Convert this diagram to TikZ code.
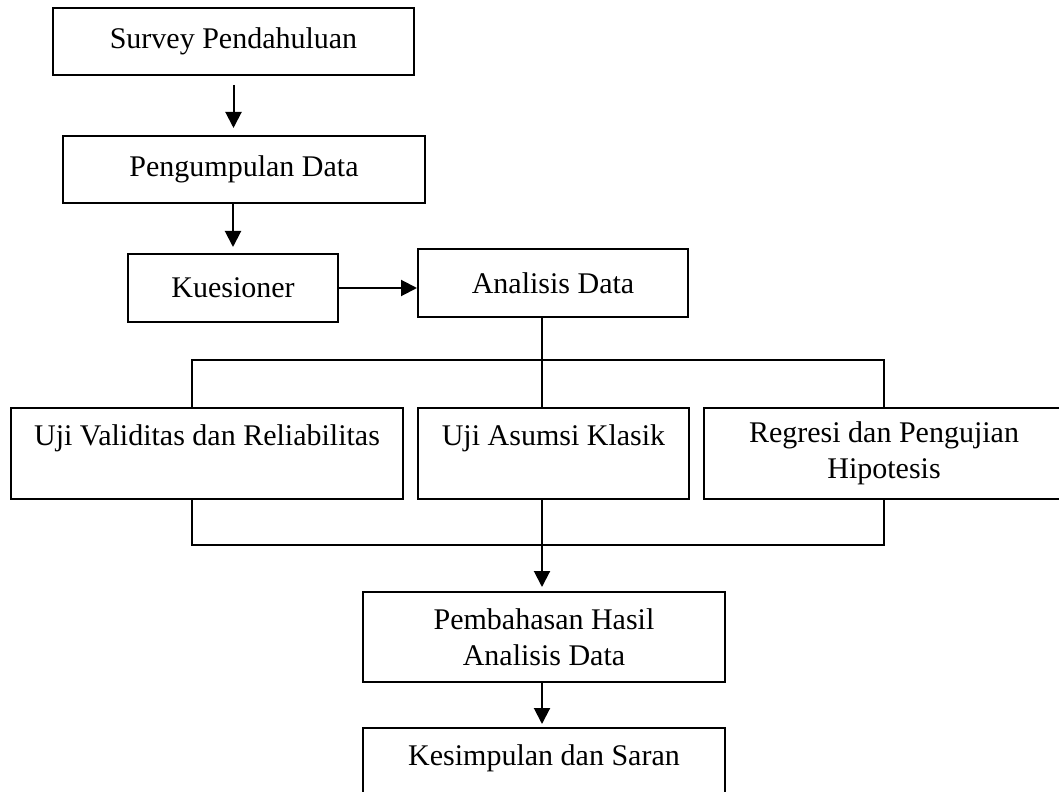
\documentclass[tikz,border=0pt]{standalone}
\usepackage{fontspec}
\setmainfont{Liberation Serif}
\usetikzlibrary{arrows.meta}

\tikzset{
  box/.style={draw=black, line width=0.8pt, align=center, inner sep=0pt, font=\fontsize{12}{14.4}\selectfont},
  link/.style={draw=black, line width=0.8pt},
  arrowlink/.style={link, -{Triangle[length=6.4pt, width=6.4pt]}}
}

\begin{document}
\begin{tikzpicture}[x=0.4pt, y=-0.4pt]
\useasboundingbox (0,0) rectangle (1059,792);

\node[box, minimum width=361*0.4pt, minimum height=67*0.4pt] (survey) at (233.5,41.5) {Survey Pendahuluan};
\node[box, minimum width=362*0.4pt, minimum height=67*0.4pt] (kumpul) at (244,169.5) {Pengumpulan Data};
\node[box, minimum width=210*0.4pt, minimum height=68*0.4pt] (kuesioner) at (233,288) {Kuesioner};
\node[box, minimum width=270*0.4pt, minimum height=68*0.4pt] (analisis) at (553,283) {Analisis Data};

\node[box, minimum width=392*0.4pt, minimum height=91*0.4pt] (validitas) at (207,453.5) {Uji Validitas dan Reliabilitas\\~};
\node[box, minimum width=271*0.4pt, minimum height=91*0.4pt] (asumsi) at (553.5,453.5) {Uji Asumsi Klasik\\~};
\node[box, minimum width=360*0.4pt, minimum height=91*0.4pt] (regresi) at (884,453.5) {Regresi dan Pengujian\\Hipotesis};

\node[box, minimum width=362*0.4pt, minimum height=90*0.4pt] (bahas) at (544,637) {Pembahasan Hasil\\Analisis Data};
\node[box, minimum width=362*0.4pt, minimum height=72*0.4pt, text depth=7pt] (simpul) at (544,764) {Kesimpulan dan Saran};

% bus lines
\coordinate (topL) at (192,360);
\coordinate (topM) at (542,360);
\coordinate (topR) at (884,360);
\coordinate (botL) at (192,545);
\coordinate (botM) at (542,545);
\coordinate (botR) at (884,545);

\draw[arrowlink, shorten <=9*0.4pt, shorten >=7*0.4pt] (survey.south) -- (survey.south |- kumpul.north);
\draw[arrowlink, shorten >=6*0.4pt] (kuesioner.north |- kumpul.south) -- (kuesioner.north);
\draw[arrowlink] (kuesioner.east) -- (kuesioner.east -| analisis.west);

\draw[link] (analisis.south -| topM) -- (asumsi.north -| topM);
\draw[link] (topL |- validitas.north) -- (topL) -- (topR) -- (topR |- regresi.north);
\draw[link] (botL |- validitas.south) -- (botL) -- (botR) -- (botR |- regresi.south);
\draw[arrowlink, shorten >=4*0.4pt] (asumsi.south -| botM) -- (bahas.north -| botM);
\draw[arrowlink, shorten >=3*0.4pt] (bahas.south -| botM) -- (simpul.north -| botM);
\end{tikzpicture}
\end{document}
